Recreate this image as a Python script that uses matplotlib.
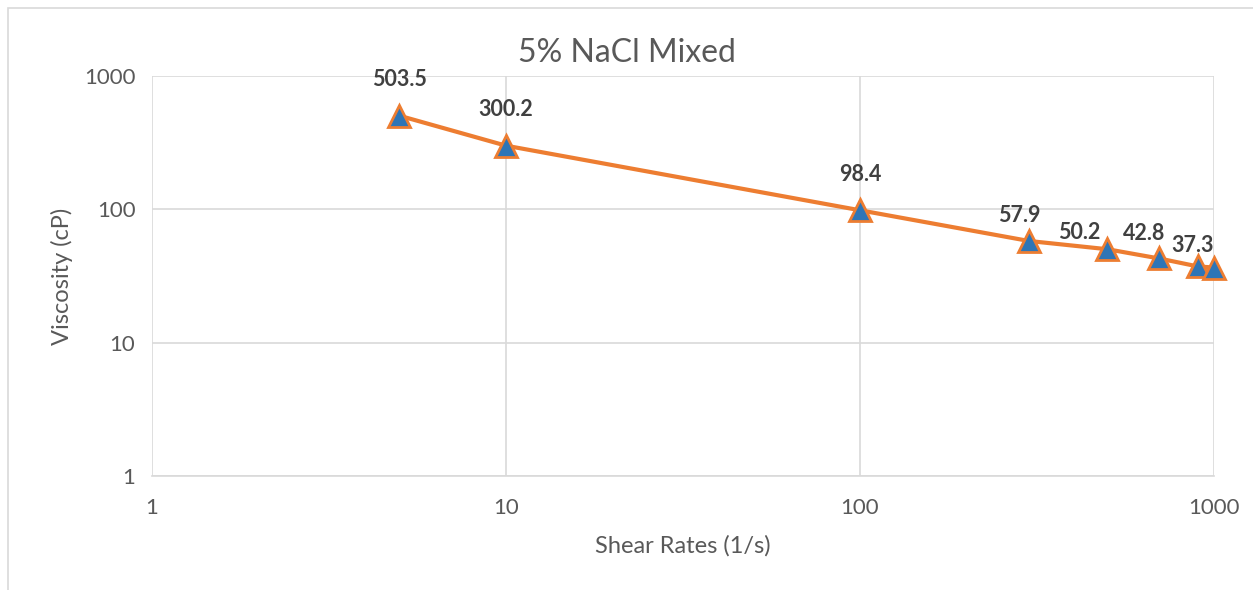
import matplotlib
matplotlib.use("Agg")
import matplotlib.pyplot as plt
from matplotlib.patches import Rectangle
from matplotlib.ticker import FixedLocator, NullLocator, FixedFormatter

plt.rcParams['font.family'] = ['Lato', 'DejaVu Sans']

# Shear rate (1/s) and measured viscosity (cP)
shear_rates = [5, 10, 100, 300, 500, 700, 900, 1000]
viscosity = [503.5, 300.2, 98.4, 57.9, 50.2, 42.8, 37.3, 36.6]
# Points carrying a value label (the last reading is unlabelled)
labelled = [True, True, True, True, True, True, True, False]

x_ticks = [1, 10, 100, 1000]
x_ticklabels = ["1", "10", "100", "1000"]
y_ticks = [1, 10, 100, 1000]
y_ticklabels = ["1", "10", "100", "1000"]

LINE = "#ED7D31"
FILL = "#2E75B6"
TEXT = "#595959"
LABEL = "#404040"
GRID = "#D9D9D9"

# label offsets in points (dx, dy), nudged apart where points crowd together
label_offsets = [(0, 26), (0, 26), (0, 26), (-7, 18), (-20, 12), (-11, 18), (-4, 15), (0, 0)]

W, H = 1253, 590
fig = plt.figure(figsize=(W / 100, H / 100), dpi=100)
ax = fig.add_axes([152 / W, 1 - 476 / H, (1214 - 152) / W, (476 - 76) / H])

# chart-area border
fig.patches.append(Rectangle((8 / W, -0.1), 1.2, 1 - 8 / H + 0.1,
                             transform=fig.transFigure, fill=False,
                             edgecolor="#D9D9D9", linewidth=1.2))

ax.set_xscale("log")
ax.set_yscale("log")
ax.set_xlim(1, 1000)
ax.set_ylim(1, 1000)

ax.plot(shear_rates, viscosity, color=LINE, linewidth=3, zorder=3,
        marker="^", markersize=16, markerfacecolor=FILL,
        markeredgecolor=LINE, markeredgewidth=2, clip_on=False)

for xv, yv, show, off in zip(shear_rates, viscosity, labelled, label_offsets):
    if show:
        ax.annotate(f"{yv:.1f}", (xv, yv), xytext=off,
                    textcoords="offset points", ha="center", va="center",
                    fontsize=15.5, fontweight="bold", color=LABEL, zorder=4)

ax.xaxis.set_major_locator(FixedLocator(x_ticks))
ax.xaxis.set_major_formatter(FixedFormatter(x_ticklabels))
ax.yaxis.set_major_locator(FixedLocator(y_ticks))
ax.yaxis.set_major_formatter(FixedFormatter(y_ticklabels))
ax.xaxis.set_minor_locator(NullLocator())
ax.yaxis.set_minor_locator(NullLocator())

ax.grid(True, which="major", color=GRID, linewidth=1.2)
ax.set_axisbelow(True)
for side in ["top", "right", "left"]:
    ax.spines[side].set_visible(False)
ax.spines["bottom"].set_color(GRID)
ax.spines["bottom"].set_linewidth(1.2)

ax.tick_params(axis="both", length=0, labelsize=16, colors=TEXT)
ax.tick_params(axis="x", pad=16)
ax.tick_params(axis="y", pad=12)

ax.set_xlabel("Shear Rates (1/s)", fontsize=17, color=TEXT, labelpad=12)
ax.set_ylabel("Viscosity (cP)", fontsize=17, color=TEXT, labelpad=8)
fig.text(0.5, 1 - 53 / H, "5% NaCl Mixed",
         ha="center", va="center", fontsize=23, color=TEXT)

fig.savefig("out.png", dpi=100)
